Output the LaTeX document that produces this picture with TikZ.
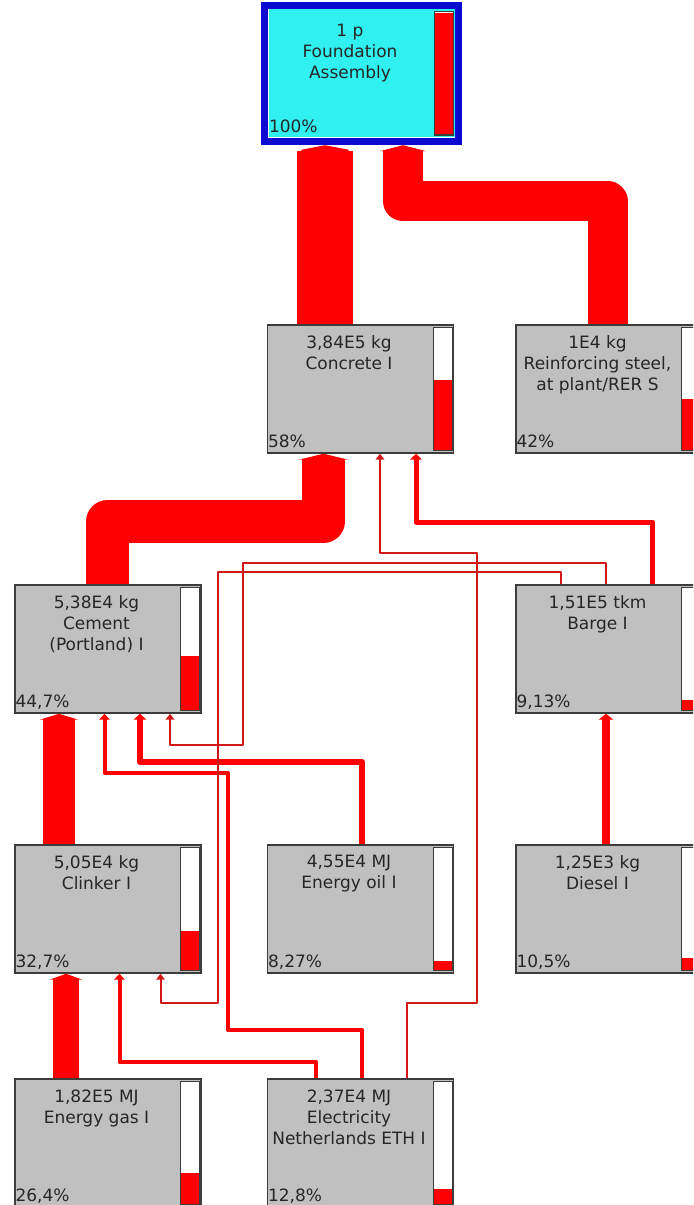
\documentclass[tikz,border=0pt]{standalone}
\usepackage{fontspec}
\setmainfont{DejaVu Sans}
\usetikzlibrary{arrows.meta,calc,fit}
\definecolor{boxgray}{HTML}{C0C0C0}
\definecolor{boxline}{HTML}{3C3C3C}
\definecolor{flowred}{HTML}{FF0000}
\definecolor{wirered}{HTML}{D01818}
\definecolor{headcyan}{HTML}{30F0F0}
\definecolor{headblue}{HTML}{0A0AD0}

\begin{document}
\begin{tikzpicture}[x=0.75pt,y=-0.75pt,
proc/.style={rectangle,draw=boxline,fill=boxgray,line width=1.1pt,minimum width=139.5pt,minimum height=96pt,inner sep=0pt},
txt/.style={align=center,inner sep=0pt,anchor=north,text=black!85,font=\fontsize{12.75}{15.75}\selectfont},
pct/.style={inner sep=0pt,anchor=base west,text=black!85,font=\fontsize{12.75}{15.75}\selectfont},
flow/.style={draw=flowred,line width=#1*0.75pt,line join=round,-{Triangle[length=4.5pt 0,width=5pt 1]}},
wire/.style={flow=#1,draw=wirered}]
\useasboundingbox (0,0) rectangle (693,1205);
\clip (0,0) rectangle (693,1205);
% process boxes
\node[proc,draw=none,fill=headcyan] (found) at (361.5,73.5) {};
\foreach \n/\x/\y in {conc/360.5/389,steel/609/389,cem/108/649,barge/609/649,clink/108/909,oil/360.5/909,diesel/609/909,gas/108/1143,elec/360.5/1143}
  \node[proc] (\n) at (\x,\y) {};
\node[fit=(found),inner sep=2.625pt,draw=headblue,line width=5.25pt] (frame) {};
% labels and score bars
\foreach \n/\d/\t/\p/\f in {found/15/{1 p\\Foundation\\Assembly}/{100\%}/1,
  conc/11/{3,84E5 kg\\Concrete I}/{58\%}/0.58,
  steel/11/{1E4 kg\\Reinforcing steel,\\at plant/RER S}/{42\%}/0.42,
  cem/11/{5,38E4 kg\\Cement\\(Portland) I}/{44,7\%}/0.447,
  barge/11/{1,51E5 tkm\\Barge I}/{9,13\%}/0.0913,
  clink/11/{5,05E4 kg\\Clinker I}/{32,7\%}/0.327,
  oil/11/{4,55E4 MJ\\Energy oil I}/{8,27\%}/0.0827,
  diesel/11/{1,25E3 kg\\Diesel I}/{10,5\%}/0.105,
  gas/11/{1,82E5 MJ\\Energy gas I}/{26,4\%}/0.264,
  elec/11/{2,37E4 MJ\\Electricity\\Netherlands ETH I}/{12,8\%}/0.128}{
  \node[txt] (\n-t) at ($(\n.north)+(-11.5,\d)$) {\t};
  \node[pct] (\n-p) at ($(\n.south west)+(1,-6)$) {\p};
  \fill[white] ($(\n.north east)+(-21,3)$) rectangle ($(\n.south east)+(-2,-3)$);
  \fill[flowred] ($(\n.south east)+(-21,-3)$) rectangle ($(\n.south east)+(-2,{-3-122*\f})$);
  \draw[boxline,line width=1.1pt] ($(\n.north east)+(-21,3)$) rectangle ($(\n.south east)+(-2,-3)$);
}
% flows
\draw[flow=56] ($(conc.north)+(-35.5,0)$) -- ($(frame.south)+(-36.5,0)$);
\draw[flow=40] ($(steel.north)+(-1.5,0)$) |- (403,201.5) -- ($(frame.south)+(41.5,0)$);
\draw[flow=43] ($(cem.north)+(-0.5,0)$) |- (323.5,521.5) -- ($(conc.south)+(-37,0)$);
\draw[flow=32] ($(clink.north)+(-49,0)$) -- ($(cem.south)+(-49,0)$);
\draw[flow=26] ($(gas.north)+(-42,0)$) -- ($(clink.south)+(-42,0)$);
\draw[flow=8] ($(diesel.north)+(-3,0)$) -- ($(barge.south)+(-3,0)$);
\draw[flow=6] ($(oil.north)+(1.5,0)$) |- (140,762) -- ($(cem.south)+(32,0)$);
\draw[flow=5] ($(barge.north)+(43.5,0)$) |- (416,522) -- ($(conc.south)+(55.5,0)$);
\draw[flow=4] ($(elec.north)+(1.5,0)$) |- (228,1030) |- (104.5,773) -- ($(cem.south)+(-3.5,0)$);
\draw[flow=4] ($(elec.north)+(-44.5,0)$) |- (119.5,1062) -- ($(clink.south)+(11.5,0)$);
\draw[wire=2] ($(elec.north)+(46.5,0)$) |- (477,1003) |- (380,553) -- ($(conc.south)+(19.5,0)$);
\draw[wire=2] ($(barge.north)+(-3.5,0)$) |- (243,563) |- (170,745) -- ($(cem.south)+(62,0)$);
\draw[wire=2] ($(barge.north)+(-48,0)$) |- (217.5,572) |- (160.5,1003) -- ($(clink.south)+(52.5,0)$);
\end{tikzpicture}
\end{document}
